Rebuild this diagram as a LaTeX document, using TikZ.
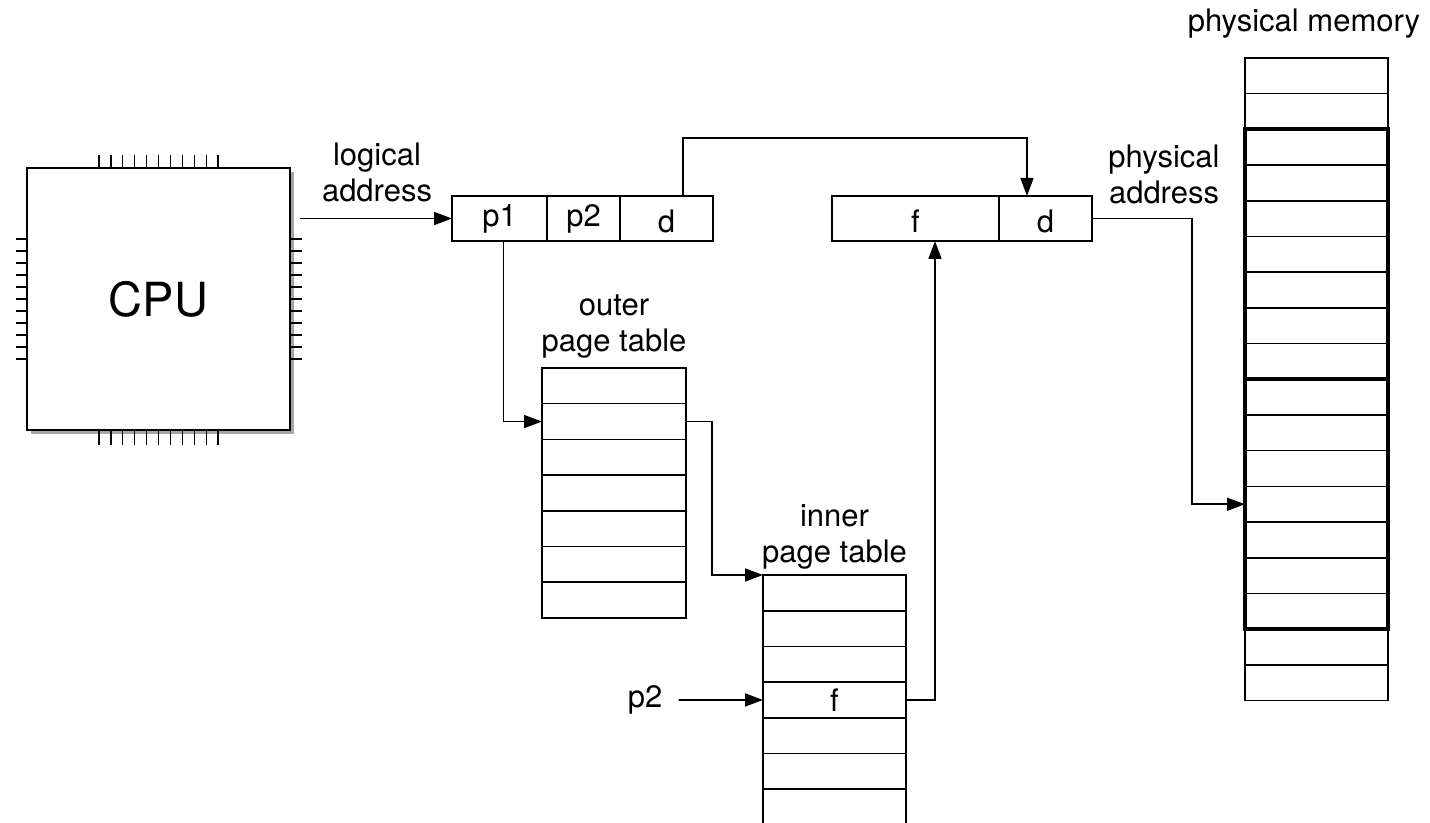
\documentclass[tikz,border=0pt]{standalone}
\usepackage{fontspec}
\setmainfont{TeX Gyre Heros}
\usetikzlibrary{arrows.meta,shadows}

\begin{document}
\begin{tikzpicture}[x=0.5pt,y=-0.5pt,
  font=\fontsize{15.5}{18}\selectfont,
  cell/.style={draw, line width=0.8pt, inner sep=0pt, outer sep=0pt, minimum height=17.85pt},
  addr/.style={cell, minimum height=22.5pt, text height=11pt, text depth=3pt},
  low/.style={text height=17pt},
  cpu/.style={draw, fill=white, line width=1pt, inner sep=0pt, outer sep=0pt,
    minimum width=131.5pt, minimum height=131pt, font=\fontsize{23.5}{27}\selectfont,
    drop shadow={shadow xshift=2pt, shadow yshift=-2pt, opacity=0.5, fill=black!70}},
  arr/.style={line width=0.8pt, -{Triangle[length=9pt,width=6.5pt]}},
  pin/.style={line width=0.6pt},
  frame/.style={line width=2pt},
  lbl/.style={align=center, inner sep=0pt}]
\useasboundingbox (0,0) rectangle (1430,823);

% cpu chip with its pins
\node[cpu] (cpu) at (158.5,299) {CPU};
\foreach \i in {0,...,10} {
  \draw[pin] ({99+11.9*\i},155) -- ({99+11.9*\i},168);
  \draw[pin] ({99+11.9*\i},430) -- ({99+11.9*\i},445);
  \draw[pin] (16,{239+12*\i}) -- (27,{239+12*\i});
  \draw[pin] (290,{239+12*\i}) -- (302,{239+12*\i});
}
\coordinate (cpuout) at (300,218.5);

% logical and physical address
\node[addr, minimum width=47.5pt] (p1) at (499.5,218.5) {p1};
\node[addr, minimum width=36.5pt] (p2) at (583.5,218.5) {p2};
\node[addr, low, minimum width=46.5pt] (ld) at (666.5,218.5) {d};
\node[addr, low, minimum width=83.5pt] (pf) at (915.5,218.5) {f};
\node[addr, low, minimum width=46.5pt] (pd) at (1045.5,218.5) {d};

% tables
\foreach \i in {1,...,7}
  \node[cell, minimum width=72pt] (outer-\i) at (614,{368+35.7*(\i-0.5)}) {};
\foreach \i/\t in {1/,2/,3/,4/f,5/,6/,7/}
  \node[cell, minimum width=71.5pt] (inner-\i) at (834.5,{575+35.7*(\i-0.5)}) {\t};
\foreach \i in {1,...,18}
  \node[cell, minimum width=71.5pt] (mem-\i) at (1316.5,{58+35.7*(\i-0.5)}) {};
\draw[frame] (mem-3.north west) rectangle (mem-9.south east);
\draw[frame] (mem-10.north west) rectangle (mem-16.south east);

% labels
\node[lbl] (logaddr) at (377,172) {logical\\address};
\node[lbl] (physaddr) at (1164,174) {physical\\address};
\node[lbl] (outerlbl) at (614,327) {outer\\page table};
\node[lbl] (innerlbl) at (834.5,537) {inner\\page table};
\node[lbl] (memlbl) at (1304,24) {physical memory};
\node[lbl] (p2in) at (645,700) {p2};

% connectors
\draw[arr] (cpuout) -- (p1.west);
\draw[arr] ([xshift=2pt]p1.south) |- (outer-2.west);
\draw[arr] ([xshift=8.25pt]ld.north) -- ++(0,-58) -| ([xshift=-9.25pt]pd.north);
\draw[arr] (outer-2.east) -- ++(26,0) |- (inner-1.north west);
\draw[arr] (p2in.east) ++(16,0) -- (inner-4.west);
\draw[arr] (inner-4.east) -| ([xshift=9.75pt]pf.south);
\draw[arr] (pd.east) -- ++(100,0) |- (mem-13.west);
\end{tikzpicture}
\end{document}
